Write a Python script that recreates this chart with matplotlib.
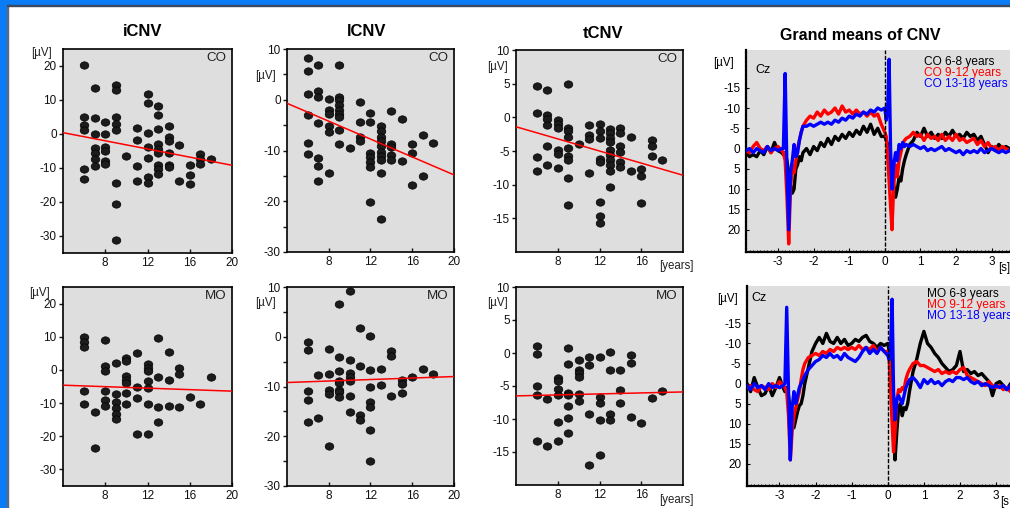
import numpy as np
import matplotlib
matplotlib.use("Agg")
import matplotlib.pyplot as plt
from matplotlib.path import Path
from matplotlib.transforms import Affine2D
from matplotlib.patches import Rectangle

plt.rcParams['font.family'] = ['Liberation Sans', 'DejaVu Sans']
plt.rcParams['axes.unicode_minus'] = False

W, H = 1010, 508
BG = '#dedede'

# ---------------- scatter data (age in years, amplitude in uV) ----------------
AGES = [6, 7, 8, 9, 10, 11, 12, 13, 14, 15, 16, 17, 18]

icnv_co = [
    [20.4, 5.1, 2.6, 1.2, -10.3, -13.2],
    [13.5, 4.8, 0.0, -4.0, -5.5, -7.3, -9.5],
    [3.6, 0.0, -3.7, -4.9, -7.8, -8.9],
    [14.3, 12.9, 5.1, 2.8, 1.2, -14.3, -20.5, -31.2],
    [-6.6],
    [1.8, -1.8, -9.5, -13.9],
    [11.7, 9.2, 0.4, -3.7, -7.0, -12.5, -14.3],
    [8.1, 5.7, 1.5, -2.9, -4.4, -5.6, -9.2, -10.4, -11.7],
    [2.5, -1.0, -2.1, -5.5, -9.0, -9.8],
    [-3.3, -13.9],
    [-9.2, -12.2, -14.7],
    [-5.8, -7.4, -8.9],
    [-7.3],
]
lcnv_co = [
    [8.2, 5.7, 1.1, -3.0, -8.5, -10.6],
    [6.8, 1.8, 0.5, -4.5, -11.5, -13.0, -16.1],
    [0.2, -2.0, -2.8, -5.2, -6.4, -14.4],
    [6.8, 0.5, -0.1, -1.0, -2.0, -2.8, -3.4, -5.9, -8.7],
    [-9.6],
    [-0.5, -4.4, -7.3, -8.1],
    [-2.6, -4.4, -10.5, -11.3, -12.3, -13.2, -20.2],
    [-5.1, -6.1, -7.3, -8.2, -9.2, -10.2, -11.0, -11.8, -14.4, -23.4],
    [-2.3, -8.7, -9.3, -10.8, -11.8],
    [-3.7, -12.0],
    [-8.7, -10.4, -16.7],
    [-6.9, -15.0],
    [-8.5],
]
tcnv_co = [
    [4.6, 0.7, -5.9, -8.0],
    [4.1, 0.4, -0.3, -1.1, -4.3, -7.1],
    [-0.4, -1.0, -1.6, -4.8, -5.5, -7.5],
    [4.9, -1.6, -2.0, -2.9, -4.5, -5.8, -6.3, -9.0, -13.0],
    [-4.0],
    [-1.1, -2.6, -3.2, -8.2],
    [-1.0, -2.1, -3.1, -6.2, -6.7, -12.5, -14.6, -15.7],
    [-1.7, -2.4, -3.1, -3.7, -4.8, -5.6, -6.3, -7.1, -7.9, -10.3],
    [-1.6, -2.4, -4.2, -5.2, -6.6, -7.4],
    [-2.9, -7.9],
    [-7.7, -8.7, -12.7],
    [-3.3, -4.2, -5.7],
    [-6.3],
]
icnv_mo = [
    [10.0, 8.5, 6.9, -6.3, -10.4],
    [-12.7, -23.4],
    [8.9, 1.1, -0.4, -6.3, -9.2, -10.9],
    [2.2, -7.4, -9.7, -11.5, -13.2, -14.8],
    [3.6, 2.7, -1.9, -3.1, -3.9, -7.1, -10.4],
    [5.1, -5.1, -8.6, -19.3],
    [1.7, 0.7, -0.4, -3.3, -5.5, -10.4, -19.3],
    [9.6, -2.2, -11.2, -15.6],
    [5.5, -2.9, -10.8],
    [0.7, -1.1, -11.2],
    [-8.1],
    [-10.4],
    [-2.2],
]
lcnv_mo = [
    [-1.1, -2.7, -11.0, -12.8, -17.2],
    [-7.6, -16.3],
    [-2.5, -7.4, -10.8, -11.6, -21.9],
    [6.6, -4.1, -6.8, -8.8, -9.3, -10.8, -11.2, -12.2],
    [9.1, -4.6, -7.3, -8.1, -8.9, -11.9, -15.1],
    [1.8, -5.8, -15.8, -16.7],
    [0.2, -6.6, -10.2, -13.2, -14.2, -18.8, -24.9],
    [-6.4, -9.6],
    [-2.9, -3.9, -11.9],
    [-8.6, -9.4, -11.4],
    [-8.0],
    [-6.5],
    [-7.5],
]
tcnv_mo = [
    [1.0, -0.1, -5.0, -6.3, -13.4],
    [-7.0, -14.1],
    [-3.8, -4.3, -5.5, -6.3, -10.4, -13.4],
    [0.7, -1.6, -6.0, -6.3, -8.1, -9.8, -12.1],
    [-1.1, -2.5, -3.1, -3.7, -6.2, -7.3],
    [-0.6, -1.8, -9.2, -16.9],
    [-0.6, -6.6, -7.5, -10.1, -15.4],
    [0.2, -2.6, -9.2, -10.1],
    [-2.5, -5.6, -7.5],
    [-0.3, -1.5, -9.7],
    [-10.6],
    [-6.8],
    [-5.7],
]

# regression lines: value at age 4 and at age 20
FIT_X = [4, 20]
fit_icnv_co = [0.4, -9.2]
fit_lcnv_co = [-0.7, -14.8]
fit_tcnv_co = [-1.4, -8.6]
fit_icnv_mo = [-4.6, -6.4]
fit_lcnv_mo = [-9.2, -8.0]
fit_tcnv_mo = [-6.5, -5.9]

# ---------------- grand mean CNV traces at Cz (uV, negative up) ----------------
T = [-3.9, -3.8, -3.7, -3.6, -3.5, -3.4, -3.3, -3.2, -3.1, -3.0, -2.9,
     -2.85, -2.8, -2.75, -2.7, -2.65, -2.6, -2.55, -2.5, -2.45, -2.4, -2.35, -2.3,
     -2.2, -2.1, -2.0, -1.9, -1.8, -1.7, -1.6, -1.5, -1.4, -1.3, -1.2, -1.1, -1.0,
     -0.9, -0.8, -0.7, -0.6, -0.5, -0.4, -0.3, -0.2, -0.1, 0.0,
     0.04, 0.08, 0.12, 0.16, 0.2, 0.25, 0.3, 0.35, 0.4, 0.45, 0.5, 0.55, 0.6,
     0.7, 0.8, 0.9, 1.0, 1.1, 1.2, 1.3, 1.4, 1.5, 1.6, 1.7, 1.8, 1.9, 2.0, 2.1,
     2.2, 2.3, 2.4, 2.5, 2.6, 2.7, 2.8, 2.9, 3.0, 3.1, 3.2, 3.3, 3.4, 3.5]

co_6_8 = [1, 2, 1.5, 2, 0.5, 1.5, -0.5, 1, -1.5, 0.5, 1,
          1.5, 1, 3, 6, 9, 11, 10, 5, 4, 2, 3, 1,
          0, 1.5, -0.5, 0.5, -1.5, -0.5, -2.5, -1, -3, -2, -3.5, -2.5, -4,
          -3, -4.5, -3.5, -5.5, -4, -6, -3.5, -5, -3, -3,
          -2, -1, 1, 4, 6, 9, 12, 10, 7, 8, 5, 3, 1.5,
          -1, -2, -4, -3, -5, -3, -4, -2.5, -3.5, -2.5, -4, -3, -4.5, -3, -3.5,
          -2.5, -4, -3, -3.5, -2, -3, -1, 1, -0.5, 0.5, -1, 0, -0.5, 0]
co_9_12 = [0.5, 1, -0.5, -1.5, 0, 0.5, -0.5, 1, 0, -0.5, 0.5,
           1, 3, 12, 23.5, 10, 4, 6, 3, 0, -2, -4, -5.5,
           -7, -8, -7.5, -9, -8, -9.5, -8.5, -9, -10, -8.5, -10.5, -9, -9.5,
           -8.5, -9.5, -8.5, -9, -8, -9, -8, -8.5, -6, -4,
           -3, 2, 8, 14, 20, 9, 4, 7, 3, 1, -1, -2, -2.5,
           -3, -4, -3, -3.5, -2, -3.5, -2.5, -3, -2, -3.5, -2, -3, -2, -3.5, -2,
           -2.5, -1.5, -2, -2.5, -1, -2, -0.5, -1.5, 0, -0.5, 0.5, -0.5, 0, 0.5]
co_13_18 = [0.5, 0, 1, 0, 0.5, 1, -0.5, 0.5, 0, 0.5, 0,
            0, -18.5, 5, 20, 6, 3, -1, 2, 1, -2, -4, -5.5,
            -5.5, -6, -5.5, -6, -6.5, -6, -6.5, -6, -7, -6.5, -7.5, -7, -8,
            -7.5, -8.5, -8, -9, -8.5, -9.5, -9, -10, -9.5, -10,
            -7, -10, -22, 0, 10, 4, 1, 3, -1, 0, -1.5, -0.5, -1,
            -0.5, -1, -0.5, 0, -0.5, 0.5, 0, 0.5, 0, -0.5, 0.5, 0, 0.5, 1, 0.5,
            1.5, 0.5, 1, 0.5, 1, 0, 1, 0.5, 0, 0.5, 1, 0.5, 1, 0.5]

mo_6_8 = [0, 2, -1.5, 1, 3, 2.5, 0.5, 3, 1, -1.5, 1,
          2, 1, 3, 7, 9, 11, 9, 7, 5.5, 5, 3, 0,
          -4, -8, -10, -11.5, -10, -12.5, -10.5, -10, -11.5, -10, -11, -9.5, -10,
          -11, -10.5, -11.5, -12, -10.5, -10, -9, -10, -9.5, -10,
          -8, -5, 2, 10, 19, 12, 6, 5, 8, 6, 6.5, 5, 2,
          -3, -6, -10, -13, -10, -9, -7.5, -6.5, -5, -4, -3, -3.5, -4.5, -8, -3,
          -3.5, -2.5, -3, -2, -2.5, -1.5, -0.5, 3, 0, -0.5, 0.5, 1.5, 0, 1]
mo_9_12 = [1, 0.5, 1.5, 2, 0.5, 1, 1.5, 0, 1, -0.5, 0.5,
           1, 2, 8, 19, 12, 8, 6, 4, 2, -1, -3.5, -5,
           -6.5, -7, -7.5, -7, -8, -7.5, -8.5, -8, -9, -8.5, -9, -8.5, -9,
           -8.5, -9.5, -8.5, -9, -8.5, -9.5, -8, -9, -8, -8,
           -6, 2, 10, 17, 12, 4, 1.5, 2, 1, 1.5, -1, -2.5, -3.5,
           -5, -5.5, -4.5, -4.5, -4, -3.5, -3, -3.5, -2.5, -3, -2.5, -3, -2.5, -3.5, -4,
           -2, -1.5, -1, -0.5, 0, 0.5, -0.5, 0.5, 1, 0.5, 1.5, 1, 2, 2.5]
mo_13_18 = [0.5, 1.5, 0, 1, 0.5, 1.5, 0, 1, 0.5, 1, 0.5,
            0, -19, 2, 19, 6, 2, 5, 3, 1, 0, -1, -2,
            -3.5, -4.5, -5.5, -6, -7, -6.5, -7.5, -6.5, -7, -6, -7.5, -6.5, -6,
            -5.5, -6.5, -8, -9, -7.5, -8.5, -7.5, -9, -8, -7,
            -6, -10, -21, 2, 9, 4, 3, 4, 5, 3, 1, 0, -1,
            -1.5, -0.5, 1, -1, 0, -1, 0, -0.5, 0.5, -0.5, -1, -0.5, -1.5, -1.5, -1,
            -1.5, -0.5, 0, -0.5, 0.5, 0, 0.5, 1, 0.5, 1, 0.5, 1.5, 0.5, 1]

ERP_COLORS = ['black', '#ff0000', '#0000ff']
CO_LABELS = ['CO 6-8 years', 'CO 9-12 years', 'CO 13-18 years']
MO_LABELS = ['MO 6-8 years', 'MO 9-12 years', 'MO 13-18 years']

fig = plt.figure(figsize=(W / 100, H / 100), dpi=100)

def px_axes(left, top, right, bottom):
    return fig.add_axes([left / W, 1 - bottom / H, (right - left) / W, (bottom - top) / H])

def px_text(x, y, s, **kw):
    fig.text(x / W, 1 - y / H, s, **kw)

# slightly flattened dot, as in the original
DOT = Affine2D().scale(1.0, 0.86).transform_path(Path.unit_circle())

def draw_scatter(ax, groups, fit, ylim, yticks, minor, tag, xticks):
    xs, ys = [], []
    for age, vals in zip(AGES, groups):
        xs += [age] * len(vals)
        ys += vals
    ax.set_facecolor(BG)
    ax.scatter(xs, ys, s=38, marker=DOT, facecolor='#1c1c1c', edgecolor='black',
               linewidth=0.5, zorder=3)
    ax.plot(FIT_X, fit, color='red', lw=1.1, zorder=4)
    ax.set_xlim(4, 20)
    ax.set_ylim(*ylim)
    ax.set_xticks(xticks)
    ax.set_yticks(yticks)
    ax.set_yticks(minor, minor=True)
    ax.tick_params(axis='y', which='both', direction='out', length=3, width=1,
                   labelsize=8.5, pad=1.5, colors='#111111')
    ax.tick_params(axis='x', direction='in', length=3, width=1, labelsize=8.5, pad=3,
                   colors='#111111')
    for sp in ax.spines.values():
        sp.set_linewidth(1.2)
    ax.text(0.965, 0.985, tag, transform=ax.transAxes, ha='right', va='top',
            fontsize=9.6, color='#222222')

def draw_erp(ax, curves, labels, legend_xy, cz_xy):
    ax.set_facecolor(BG)
    for vals, col in zip(curves, ERP_COLORS):
        ax.plot(T, vals, color=col, lw=2.4, solid_joinstyle='round', zorder=3)
    ax.axvline(0, color='black', lw=1.0, ls=(0, (3, 1.2)), zorder=4)
    ax.set_xlim(-3.9, 3.9)
    ax.set_ylim(25.5, -24.3)
    ax.set_xticks([-3, -2, -1, 0, 1, 2, 3])
    ax.set_xticks(np.arange(-3.8, 3.9, 0.1), minor=True)
    ax.set_yticks([-15, -10, -5, 0, 5, 10, 15, 20])
    ax.spines['top'].set_visible(False)
    ax.spines['right'].set_visible(False)
    for side in ['left', 'bottom']:
        ax.spines[side].set_linestyle((0, (1.2, 0.8)))
        ax.spines[side].set_linewidth(1.6)
    ax.tick_params(axis='x', which='major', direction='in', length=3, labelsize=8.5, pad=3)
    ax.tick_params(axis='x', which='minor', direction='in', length=1.2, width=0.6)
    ax.tick_params(axis='y', direction='in', length=2, labelsize=8.5, pad=4)
    lx, ly = legend_xy
    for i, (lab, col) in enumerate(zip(labels, ERP_COLORS)):
        px_text(lx, ly + i * 10.8, lab, color=col, fontsize=8.6, ha='left', va='center')
    px_text(cz_xy[0], cz_xy[1], 'Cz', fontsize=9, ha='left', va='center')

# ---- titles ----
px_text(143, 32, 'iCNV', fontsize=12, fontweight='bold', ha='center', va='center')
px_text(367, 31, 'lCNV', fontsize=12, fontweight='bold', ha='center', va='center')
px_text(603, 33, 'tCNV', fontsize=12, fontweight='bold', ha='center', va='center')
px_text(860, 35, 'Grand means of CNV', fontsize=11.5, fontweight='bold', ha='center', va='center')

# ---- scatter panels ----
ax1 = px_axes(63, 49, 232, 253)
draw_scatter(ax1, icnv_co, fit_icnv_co, (-35, 25), [20, 10, 0, -10, -20, -30], [], 'CO', [8, 12, 16, 20])
ax2 = px_axes(287, 49, 454, 252)
draw_scatter(ax2, lcnv_co, fit_lcnv_co, (-30, 10), [10, 0, -10, -20, -30], [5, -5, -15, -25], 'CO', [8, 12, 16, 20])
ax3 = px_axes(516, 50, 683, 252)
draw_scatter(ax3, tcnv_co, fit_tcnv_co, (-20, 10), [10, 5, 0, -5, -10, -15], [], 'CO', [8, 12, 16])
ax5 = px_axes(63, 287, 232, 486)
draw_scatter(ax5, icnv_mo, fit_icnv_mo, (-35, 25), [20, 10, 0, -10, -20, -30], [], 'MO', [8, 12, 16, 20])
ax6 = px_axes(287, 287, 454, 486)
draw_scatter(ax6, lcnv_mo, fit_lcnv_mo, (-30, 10), [10, 0, -10, -20, -30], [5, -5, -15, -25], 'MO', [8, 12, 16, 20])
ax7 = px_axes(516, 287, 683, 485)
draw_scatter(ax7, tcnv_mo, fit_tcnv_mo, (-20, 10), [10, 5, 0, -5, -10, -15], [], 'MO', [8, 12, 16])

# unit labels
for x, y in [(41, 53), (40, 293), (265, 76), (265, 303), (497, 67), (497, 303)]:
    px_text(x, y, '[µV]', fontsize=8.3, ha='center', va='center', color='#222222')
px_text(676, 266, '[years]', fontsize=8.3, ha='center', va='center', color='#222222')
px_text(676, 500, '[years]', fontsize=8.3, ha='center', va='center', color='#222222')

# ---- grand means panels ----
ax4 = px_axes(746, 50, 746 + 7.8 * 35.6, 252)
draw_erp(ax4, [co_6_8, co_9_12, co_13_18], CO_LABELS, (924, 62), (755, 70))
ax8 = px_axes(747, 286, 747 + 7.8 * 36.1, 486)
draw_erp(ax8, [mo_6_8, mo_9_12, mo_13_18], MO_LABELS, (927, 294), (751, 298))
px_text(723, 63, '[µV]', fontsize=8.3, ha='center', va='center')
px_text(728, 299, '[µV]', fontsize=8.3, ha='center', va='center')
px_text(998, 268, '[s]', fontsize=8.3, ha='left', va='center')
px_text(1000, 502, '[s', fontsize=8.3, ha='left', va='center')

# ---- blue window frame ----
fig.add_artist(Rectangle((0, 0), 7 / W, 1, transform=fig.transFigure, color='#0a7cf5', zorder=10))
fig.add_artist(Rectangle((0, 1 - 5 / H), 1, 5 / H, transform=fig.transFigure, color='#0a7cf5', zorder=10))
fig.add_artist(Rectangle((7 / W, 0), 1 / W, 1 - 5 / H, transform=fig.transFigure, color='#5a6a7a', zorder=10))
fig.add_artist(Rectangle((7 / W, 1 - 6 / H), 1, 1 / H, transform=fig.transFigure, color='#3a4a60', zorder=10))

fig.savefig('out.png', dpi=100)
